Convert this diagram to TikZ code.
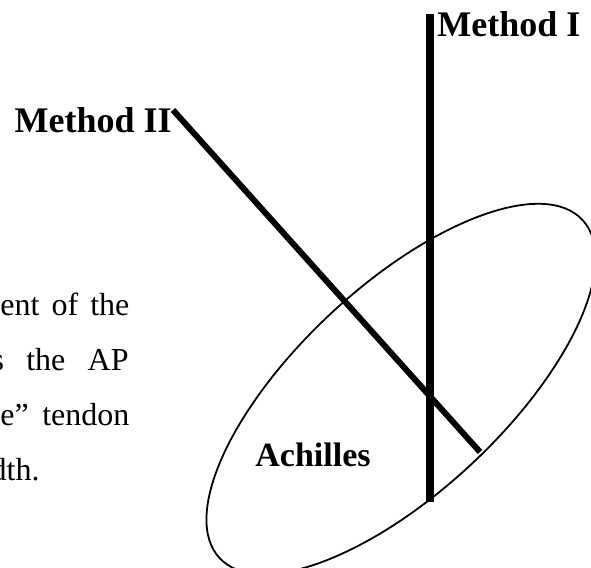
\documentclass[tikz,border=0pt]{standalone}
\usepackage{fontspec}
\setmainfont{Liberation Serif}

\begin{document}
\begin{tikzpicture}[x=0.5pt, y=0.5pt,
	lbl/.style = {font=\fontsize{18}{21}\selectfont\bfseries, inner sep=0pt},
	txt/.style = {font=\fontsize{16}{19}\selectfont, inner sep=0pt}]
	\clip (0,0) rectangle (591,568);
	% tendon cross-section
	\draw[line width=0.9pt, rotate around={43:(401,179)}]
		(401,179) ellipse [x radius=248, y radius=103];
	\coordinate (mItop) at (430,554);
	\coordinate (mIbot) at (430,66);
	\coordinate (mIItop) at (173,458);
	\coordinate (mIIbot) at (480,116);
	\draw[line width=4pt] (mItop) -- (mIbot);
	\draw[line width=3pt] (mIItop) -- (mIIbot);
	\node[lbl, anchor = base west] (methodI) at (437,531) {Method I};
	\node[lbl, anchor = base east] (methodII) at (172,435) {Method II};
	\node[lbl, font=\fontsize{17}{20}\selectfont\bfseries, anchor = base west] (achilles) at (255,101) {Achilles};
	% cut-off body text
	\node[txt, anchor = base west] (lineA) at (0,252) {\makebox[64.5pt][s]{ent of the}};
	\node[txt, anchor = base east] (lineB) at (129,197) {\makebox[68.5pt][s]{s the AP}};
	\node[txt, anchor = base west] (lineC) at (0,142) {\makebox[64.5pt][s]{e'' tendon}};
	\node[txt, anchor = base east] (lineD) at (40,87) {dth.};
\end{tikzpicture}
\end{document}
